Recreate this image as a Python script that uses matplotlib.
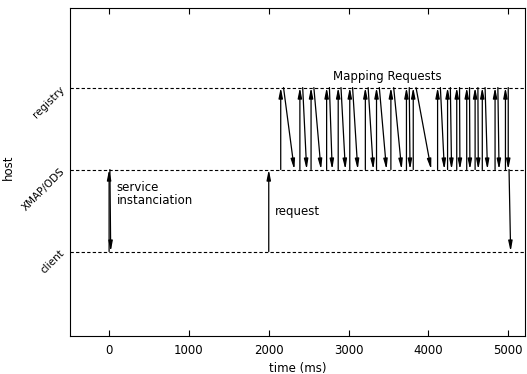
import matplotlib
matplotlib.use('Agg')
import matplotlib.pyplot as plt

# host levels
hosts = ['client', 'XMAP/ODS', 'registry']
host_y = [0, 1, 2]

# service instanciation (client <-> XMAP/ODS), times in ms
inst_up = (0, 0)        # start, end
inst_down = (10, 20)
request_t = 2000

# mapping requests: XMAP/ODS -> registry (vertical) and back (slanted)
map_up = [2150, 2390, 2530, 2725, 2870, 3015, 3210, 3350, 3530, 3725,
          3810, 4115, 4240, 4355, 4480, 4585, 4675, 4835, 4965]
map_back = [2320, 2475, 2655, 2795, 2960, 3115, 3310, 3475, 3665, 3770,
            4035, 4200, 4290, 4395, 4520, 4625, 4740, 4885, 5000]
final_down = (5010, 5030)

fig = plt.figure(figsize=(5.27, 3.74), dpi=100)
ax = fig.add_axes([0.1328, 0.1016, 0.8634, 0.877])

for y in host_y:
    ax.axhline(y, color='black', ls=(0, (3, 2)), lw=0.8)

arr = dict(arrowstyle='-|>,head_length=0.6,head_width=0.12', color='black',
           lw=0.9, shrinkA=0, shrinkB=0)


def arrow(x0, y0, x1, y1):
    ax.annotate('', xy=(x1, y1), xytext=(x0, y0), arrowprops=arr)


arrow(inst_up[0], 0, inst_up[1], 1)
arrow(inst_down[0], 1, inst_down[1], 0)
arrow(request_t, 0, request_t, 1)

for tu, tb in zip(map_up, map_back):
    arrow(tu, 1, tu, 2)
    arrow(tu + 35, 2, tb, 1)

arrow(final_down[0], 1, final_down[1], 0)

ax.text(95, 0.70, 'service\ninstanciation', fontsize=8.5, va='center', ha='left',
        linespacing=1.0)
ax.text(2080, 0.49, 'request', fontsize=8.5, va='center', ha='left')
ax.text(3480, 2.13, 'Mapping Requests', fontsize=8.5, va='center', ha='center')

ax.set_xlim(-490, 5210)
ax.set_ylim(-1.03, 2.97)
ax.set_xticks([0, 1000, 2000, 3000, 4000, 5000])
ax.set_yticks(host_y)
ax.set_yticklabels(hosts, rotation=45, rotation_mode='anchor', ha='right', va='center')
ax.tick_params(axis='x', direction='in', length=4, top=True, labelsize=8.5, pad=6)
ax.tick_params(axis='y', length=0, labelsize=7.5, pad=5)
ax.set_xlabel('time (ms)', fontsize=8.5, labelpad=3)
ax.set_ylabel('host', fontsize=8.5)
ax.yaxis.set_label_coords(-0.121, 0.515)

fig.savefig('out.png', dpi=100)
